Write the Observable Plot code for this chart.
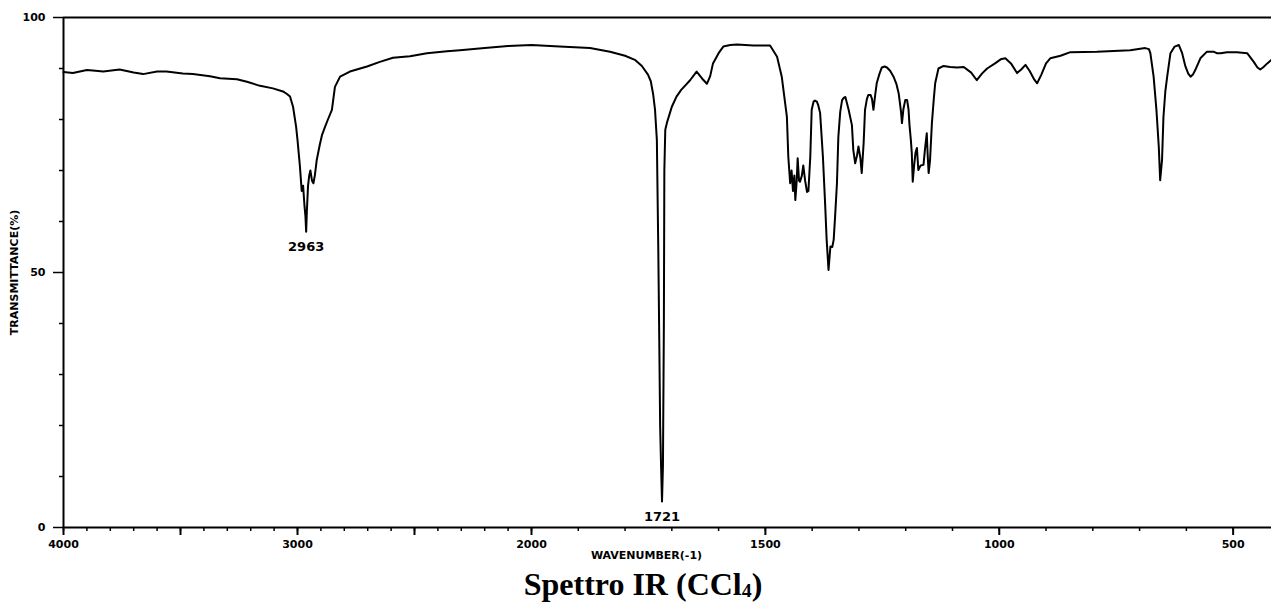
<!DOCTYPE html>
<html>
<head>
<meta charset="utf-8">
<script src="https://cdn.jsdelivr.net/npm/d3@7"></script>
<script src="https://cdn.jsdelivr.net/npm/@observablehq/plot@0.6"></script>
<style>
html, body { margin: 0; padding: 0; background: #fff; }
#chart svg { display: block; }
#title {
  position: absolute; left: 643px; top: 568px; transform: translateX(-50%);
  font-family: "Liberation Serif", "Times New Roman", serif; font-weight: bold;
  font-size: 32px; line-height: 32px; white-space: nowrap; color: #000;
}
#title sub { font-size: 0.62em; vertical-align: -0.12em; line-height: 0; }
</style>
</head>
<body>
<div id="chart"></div>
<div id="title">Spettro IR (CCl<sub>4</sub>)</div>
<script>
// Wavenumber (cm-1) and transmittance (%)
const wavenumber = [
  4000, 3960, 3900, 3875, 3830, 3760, 3700, 3660, 3600, 3560, 3490, 3447, 3374, 3331, 3259, 3216, 3160, 3105, 3062, 3045, 3032, 3019, 3006,
  3000, 2990, 2982, 2976, 2970, 2966, 2963, 2960, 2955, 2950, 2945, 2938, 2932, 2926, 2918, 2905, 2895, 2882, 2870, 2853, 2840, 2818,
  2776, 2703, 2648, 2592, 2519, 2447, 2361, 2306, 2200, 2100, 2000, 1940, 1875, 1832, 1800, 1779, 1764, 1751,
  1745, 1740, 1736, 1732, 1729, 1727, 1725, 1723, 1721, 1719, 1717, 1716, 1714, 1710, 1705, 1700, 1690, 1680, 1670, 1661, 1647, 1635, 1625, 1618, 1612, 1600, 1590,
  1575, 1561, 1526, 1490, 1475, 1465, 1454, 1451, 1447, 1444, 1441, 1438, 1436, 1433, 1431, 1428, 1426, 1422, 1419, 1415, 1411, 1408, 1404,
  1401, 1397, 1394, 1390, 1387, 1383, 1377, 1372, 1369, 1365, 1361, 1357, 1354, 1351, 1347, 1344, 1340, 1336, 1332, 1329, 1322, 1315, 1312, 1308, 1304, 1301, 1297, 1294,
  1290, 1287, 1283, 1280, 1275, 1272, 1269, 1265, 1262, 1256, 1251, 1245, 1240, 1233, 1226, 1220, 1215, 1210, 1208, 1205, 1201, 1197, 1194, 1192, 1189, 1187, 1185, 1182, 1179, 1176, 1173, 1168, 1162, 1159, 1155, 1153, 1151, 1148, 1144, 1140, 1137,
  1130, 1119, 1105, 1090, 1076, 1060, 1048, 1037, 1026, 1009, 997, 987, 975, 962, 953, 944, 935, 925, 919, 910, 900, 891, 869, 848, 791, 720, 688, 680,
  677, 670, 664, 659, 656, 652, 649, 645, 641, 634, 625, 616, 609, 602, 596, 591, 586, 581, 570, 556, 542, 535, 527, 513, 492, 470, 456, 448, 442, 435, 427, 418
];
const transmittance = [
  89.3, 89.1, 89.7, 89.6, 89.4, 89.8, 89.2, 88.9, 89.4, 89.4, 89.0, 88.9, 88.5, 88.1, 87.9, 87.4, 86.6, 86.1, 85.5, 85.0, 84.5, 82.5, 78.6,
  76, 71, 66, 67, 63, 61, 58, 62, 67, 69, 70, 68, 67.5, 69, 72, 75, 77, 78.6, 80, 81.9, 86.4, 88.4,
  89.4, 90.4, 91.3, 92.1, 92.4, 93.0, 93.4, 93.6, 94.0, 94.4, 94.6, 94.3, 94.0, 93.3, 92.5, 91.7, 90.5, 88.8,
  87.5, 85, 82, 76, 55, 38, 20, 12, 5.1, 12, 40, 70, 78, 79.5, 81, 82.5, 84.5, 85.8, 86.8, 87.7, 89.4, 88.0, 87.0, 88.5, 91.0, 93.0, 94.3,
  94.6, 94.7, 94.5, 94.5, 92.3, 88.4, 80.5, 72.7, 67.5, 70, 66, 69, 64.2, 68, 72.4, 68, 67.8, 69, 71, 68, 65.8, 66, 72.7,
  81.9, 83.5, 83.7, 83.5, 82.8, 81.3, 72.7, 62.9, 56.4, 50.5, 55.1, 55, 56.4, 60.9, 67.5, 76.6, 81.5, 83.8, 84.3, 84.4, 81.9, 78.9, 74.0, 71.4, 73, 74.7, 72.5, 69.5,
  75.3, 81.9, 84, 84.8, 84.8, 84, 81.9, 85, 87.1, 89, 90.2, 90.4, 90.2, 89.5, 88.4, 87, 85.1, 81.5, 79.3, 82, 83.8, 83.8, 82, 79, 76, 73.4, 67.8, 71, 73.5, 74.4, 70.1, 71.0, 71.1, 74, 77.3, 73, 69.5, 72, 79.3, 84, 87.1,
  90.0, 90.5, 90.3, 90.2, 90.3, 89.2, 87.7, 89, 90.0, 91.0, 91.8, 92.0, 91, 89.1, 89.8, 90.7, 89.5, 87.8, 87.1, 88.8, 91.0, 92.0, 92.5, 93.2, 93.3, 93.6, 94.0, 93.8,
  93.0, 88.4, 81.9, 74.7, 68.1, 72.1, 80.5, 85.5, 88.4, 93.0, 94.3, 94.6, 93.0, 90.4, 89, 88.4, 88.8, 89.7, 92.0, 93.3, 93.3, 93.0, 93.0, 93.2, 93.2, 93.0, 91.3, 90.2, 89.8, 90.3, 91.0, 91.7
];

// Annotated peaks
const peakLabels = ["2963", "1721"];
const peakWavenumbers = [2963, 1721];
const peakTransmittance = [58, 5.1];

// Axis ticks and labels
const xMinorTicks = [4000, 3900, 3800, 3700, 3600, 3500, 3400, 3300, 3200, 3100, 3000, 2900, 2800, 2700, 2600, 2500, 2400, 2300, 2200, 2100,
  2000, 1900, 1800, 1700, 1600, 1500, 1400, 1300, 1200, 1100, 1000, 900, 800, 700, 600, 500];
const xMajorTicks = [4000, 3500, 3000, 2500, 2000, 1500, 1000, 500];
const xLabeledTicks = [4000, 3000, 2000, 1500, 1000, 500];
const yMinorTicks = [10, 20, 30, 40, 60, 70, 80, 90];
const yMajorTicks = [0, 50, 100];
const xAxisLabel = "WAVENUMBER(-1)";
const yAxisLabel = "TRANSMITTANCE(%)";

const data = wavenumber.map((w, i) => ({wn: w, t: transmittance[i]}));

const chart = Plot.plot({
  width: 1271,
  height: 568,
  marginLeft: 63,
  marginRight: 0,
  marginTop: 17,
  marginBottom: 41,
  style: {fontFamily: "'DejaVu Sans', sans-serif", fontSize: "11px", fontWeight: "bold", color: "#000", background: "#fff"},
  x: {type: "linear", domain: [4000, 2000, 418], range: [63, 531, 1271], label: null},
  y: {domain: [0, 100], label: null},
  marks: [
    Plot.axisX({ticks: xMinorTicks, tickSize: 4, tickFormat: () => "", label: null, strokeWidth: 1.5}),
    Plot.axisX({ticks: xMajorTicks, tickSize: 8, tickPadding: 5, tickFormat: d => xLabeledTicks.includes(d) ? String(d) : "", label: null, strokeWidth: 2}),
    Plot.axisY({ticks: yMinorTicks, tickSize: 4, tickFormat: () => "", label: null, strokeWidth: 1.5}),
    Plot.axisY({ticks: yMajorTicks, tickSize: 10, tickPadding: 8, tickFormat: d => String(d), label: null, strokeWidth: 1.5}),
    Plot.ruleY([0, 100], {strokeWidth: 2}),
    Plot.ruleX([4000], {strokeWidth: 2}),
    Plot.line(data, {x: "wn", y: "t", stroke: "black", strokeWidth: 2}),
    Plot.text(peakLabels, {x: (d, i) => peakWavenumbers[i], y: (d, i) => peakTransmittance[i], text: d => d, dy: 15, fontSize: 13}),
    Plot.text([xAxisLabel], {text: d => d, frameAnchor: "bottom", dx: -21, dy: 31}),
    Plot.text([yAxisLabel], {text: d => d, frameAnchor: "left", textAnchor: "middle", dx: -49, rotate: -90})
  ]
});
document.getElementById("chart").appendChild(chart);
</script>
</body>
</html>
